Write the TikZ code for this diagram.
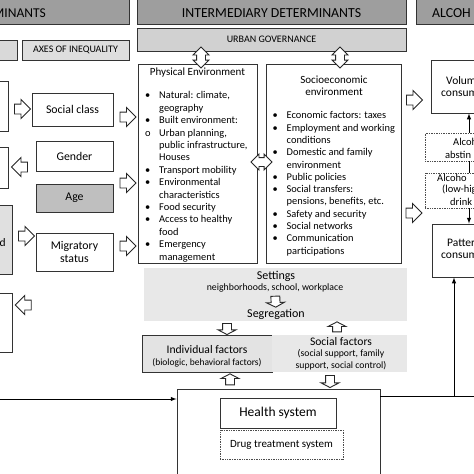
\documentclass[tikz,border=0pt]{standalone}
\usepackage{fontspec}
\setmainfont{Carlito}
\usetikzlibrary{shapes.arrows}

\newcommand{\fs}[2]{\fontsize{#1}{#2}\selectfont}

\begin{document}
\begin{tikzpicture}[x=1pt,y=-1pt,
  box/.style={draw=black!80, line width=0.9pt, fill=white, inner sep=0pt},
  headbox/.style={box, fill=black!38},
  dotbox/.style={draw=black!70, densely dotted, line width=0.7pt, fill=white, inner sep=0pt},
  txt/.style={inner sep=0pt, font=\fs{10}{12}},
  fat/.style={single arrow, draw=black!85, line width=0.9pt, fill=white, minimum height=16pt,
    inner xsep=0pt, inner ysep=4.5pt, single arrow head extend=4.5pt, single arrow head indent=0pt,
    sloped, allow upside down},
  shortfat/.style={fat, single arrow tip angle=125, inner ysep=4pt, single arrow head extend=4.5pt},
  dfat/.style={double arrow, draw=black!85, line width=0.9pt, fill=white, minimum height=21pt,
    inner xsep=0pt, inner ysep=4pt, double arrow head extend=3.5pt, double arrow head indent=0pt,
    sloped, allow upside down}]
\useasboundingbox (0,0) rectangle (474,474);
\clip (0,0) rectangle (474,474);

% headers
\node[headbox, minimum width=139pt, minimum height=27pt] (hl) at (59.5,10.5) {};
\node[headbox, minimum width=269pt, minimum height=27pt] (hm) at (271.5,10.5) {};
\node[headbox, minimum width=84pt, minimum height=27pt] (hr) at (458,10.5) {};
\node[txt, anchor=east, font=\fs{13.5}{15}] (hlt) at (46,13) {MINANTS};
\node[txt, font=\fs{13.8}{15}] (hmt) at (271.5,13) {INTERMEDIARY DETERMINANTS};
\node[txt, anchor=west, font=\fs{13.8}{15}] (hrt) at (432,13) {ALCOH};

\node[box, fill=black!15, minimum width=27pt, minimum height=20pt] (l0) at (3.5,50) {};
\node[box, fill=black!13, minimum width=107pt, minimum height=20pt, font=\fs{10}{11}] (axes) at (75.5,50) {AXES OF INEQUALITY};
\node[box, fill=black!18, minimum width=269pt, minimum height=23pt, font=\fs{10}{11}] (ug) at (271.5,39.5) {URBAN GOVERNANCE};

% axes of inequality
\node[box, minimum width=18pt, minimum height=50pt] (l1) at (-1,106) {};
\node[box, minimum width=18pt, minimum height=41pt] (l2) at (-1,167.5) {};
\node[box, fill=black!12, minimum width=22pt, minimum height=69pt] (l3) at (1,239.5) {};
\node[box, minimum width=22pt, minimum height=59pt] (l4) at (1,322.5) {};
\node[txt, anchor=west, font=\fs{11.5}{12}] (l3t) at (-0.5,243) {d};

\node[box, minimum width=81pt, minimum height=33pt, font=\fs{11.8}{13}] (sc) at (72.5,109.5) {Social class};
\node[box, minimum width=77pt, minimum height=30pt, font=\fs{11.8}{13}] (gd) at (74.5,156) {Gender};
\node[box, fill=black!25, minimum width=77pt, minimum height=28pt, font=\fs{11.8}{13}] (age) at (74.5,198) {Age};
\node[box, minimum width=77pt, minimum height=38pt, font=\fs{11.8}{13.5}, align=center] (ms) at (74.5,252) {Migratory\\status};

% intermediary determinants
\node[box, minimum width=119pt, minimum height=199pt] (pe) at (197.5,163.5) {};
\node[box, minimum width=135pt, minimum height=199pt] (se) at (333.5,163.5) {};
\node[txt, font=\fs{11}{12}] (pet) at (197.5,73) {Physical Environment};
\node[txt, font=\fs{11}{12}, align=center] (set) at (334,86) {Socioeconomic\\environment};
\node[txt, anchor=north west, font=\fs{10.4}{12.4}] (pel) at (145,90) {%
  \begin{tabular}{@{}p{14pt}@{}l@{}}
  \textbullet & Natural: climate,\\
   & geography\\
  \textbullet & Built environment:\\
  o & Urban planning,\\
   & public infrastructure,\\
   & Houses\\
  \textbullet & Transport mobility\\
  \textbullet & Environmental\\
   & characteristics\\
  \textbullet & Food security\\
  \textbullet & Access to healthy\\
   & food\\
  \textbullet & Emergency\\
   & management
  \end{tabular}};
\node[txt, anchor=north west, font=\fs{10.4}{12.3}] (sel) at (272.5,110) {%
  \begin{tabular}{@{}p{14pt}@{}l@{}}
  \textbullet & Economic factors: taxes\\
  \textbullet & Employment and working\\
   & conditions\\
  \textbullet & Domestic and family\\
   & environment\\
  \textbullet & Public policies\\
  \textbullet & Social transfers:\\
   & pensions, benefits, etc.\\
  \textbullet & Safety and security\\
  \textbullet & Social networks\\
  \textbullet & Communication\\
   & participations
  \end{tabular}};

% settings and factors
\node[fill=black!9, minimum width=263pt, minimum height=53pt, inner sep=0pt] (st) at (275.5,294.5) {};
\node[txt, font=\fs{12}{14}] (stt) at (276,276) {Settings};
\node[txt, font=\fs{9.8}{11}] (sts) at (275,288) {neighborhoods, school, workplace};
\node[txt, font=\fs{12}{14}] (seg) at (276,314) {Segregation};
\node[box, fill=black!11, minimum width=130pt, minimum height=37pt] (if) at (207,353.5) {};
\node[txt, font=\fs{11.6}{13}] (ift) at (207,350) {Individual factors};
\node[txt, font=\fs{9.5}{11}] (ifs) at (207,363) {(biologic, behavioral factors)};
\node[fill=black!9, minimum width=135pt, minimum height=37pt, inner sep=0pt] (sf) at (339.5,353.5) {};
\node[txt, font=\fs{11.6}{13}] (sft) at (341,342) {Social factors};
\node[txt, font=\fs{9.7}{12}, align=center] (sfs) at (341,360) {(social support, family\\support, social control)};

% health system
\node[box, minimum width=203pt, minimum height=91pt] (hb) at (278.5,434.5) {};
\node[box, minimum width=116pt, minimum height=30pt, font=\fs{13.5}{15}] (hs) at (278,413) {Health system};
\node[dotbox, minimum width=123pt, minimum height=29pt, font=\fs{11}{12}] (dt) at (281.5,444.5) {Drug treatment system};

% alcohol consumption
\node[box, minimum width=69pt, minimum height=53pt] (vol) at (465.5,86.5) {};
\node[dotbox, minimum width=75pt, minimum height=28pt] (ab) at (462.5,147) {};
\node[dotbox, minimum width=75pt, minimum height=35pt] (rk) at (462.5,190.5) {};
\node[box, minimum width=68pt, minimum height=53pt] (pat) at (466,250.5) {};
\node[txt, anchor=west, font=\fs{11.5}{12}] (volt) at (446,81) {Volum};
\node[txt, anchor=west, font=\fs{11.5}{12}] (vols) at (441,94) {consum};
\node[txt, anchor=west, font=\fs{10.5}{12}] (abt) at (453,142) {Alcoh};
\node[txt, anchor=west, font=\fs{10.5}{12}] (abs) at (445,155) {abstin};
\node[txt, anchor=west, font=\fs{10.5}{12}] (rkt) at (437,178) {Alcoho};
\node[txt, anchor=west, font=\fs{10.5}{12}] (rks) at (442,190) {(low-hig};
\node[txt, anchor=west, font=\fs{10.5}{12}] (rku) at (450,202) {drink};
\node[txt, anchor=west, font=\fs{11.5}{12}] (patt) at (447,243) {Patter};
\node[txt, anchor=west, font=\fs{11.5}{12}] (pats) at (441,256) {consum};

% draw the hollow arrows
\coordinate (a4) at (39,305);
\path (l1.east |- 0,109) -- (sc.west |- 0,109) node[fat, midway] (f1) {};
\path (gd.west |- 0,167) -- (l2.east |- 0,167) node[fat, midway] (f2) {};
\path (l3.east |- 0,236) -- (ms.west |- 0,236) node[fat, midway] (f3) {};
\path (a4) -- (l4.east |- a4) node[fat, midway] (f4) {};
\path (sc.east |- 0,117) -- (pe.west |- 0,117) node[fat, midway] (f5) {};
\path (gd.east |- 0,183) -- (pe.west |- 0,183) node[fat, midway] (f6) {};
\path (ms.east |- 0,246) -- (pe.west |- 0,246) node[fat, midway] (f7) {};
\path (se.east |- 0,100) -- (vol.west |- 0,100) node[fat, midway, xshift=-4pt] (f8) {};
\path (se.east |- 0,213) -- (pat.west |- 0,213) node[fat, midway, xshift=-5pt] (f9) {};
\path (sts) -- (seg) node[shortfat, midway, minimum height=11pt] (f10) {};
\path (st.south -| 227,0) -- (if.north -| 227,0) node[shortfat, midway, minimum height=11pt] (f11) {};
\path (sf.north -| 337,0) -- (st.south -| 337,0) node[shortfat, midway, minimum height=10pt] (f12) {};
\path (hb.north -| 230,0) -- (if.south -| 230,0) node[shortfat, midway, minimum height=11pt] (f13) {};
\path (sf.south -| 330,0) -- (hb.north -| 330,0) node[shortfat, midway, minimum height=12pt] (f14) {};
\path (pe.east |- 0,162) -- (se.west |- 0,162) node[dfat, midway] (d1) {};
\path (ug.south -| 201,0) -- (pe.north -| 201,0) node[dfat, midway] (d2) {};
\path (ug.south -| 340,0) -- (se.north -| 340,0) node[dfat, midway] (d3) {};

% draw the lines
\coordinate (jn) at (454,396);
\coordinate (rt) at (480,396);
\coordinate (lt) at (-5,399);
\draw[line width=1pt] (hb.east |- jn) -- (rt);
\draw[line width=1pt, -latex] (jn) -- (pat.south -| jn);
\draw[line width=1pt, -latex] (lt) -- (hb.west |- lt);
\draw[line width=1pt, -latex] (ab.north -| 469,0) -- (vol.south -| 469,0);
\draw[line width=1pt] (rk.north -| 469,0) -- (ab.south -| 469,0);
\draw[line width=1pt, -latex] (rk.south -| 469,0) -- (pat.north -| 469,0);
\end{tikzpicture}
\end{document}
